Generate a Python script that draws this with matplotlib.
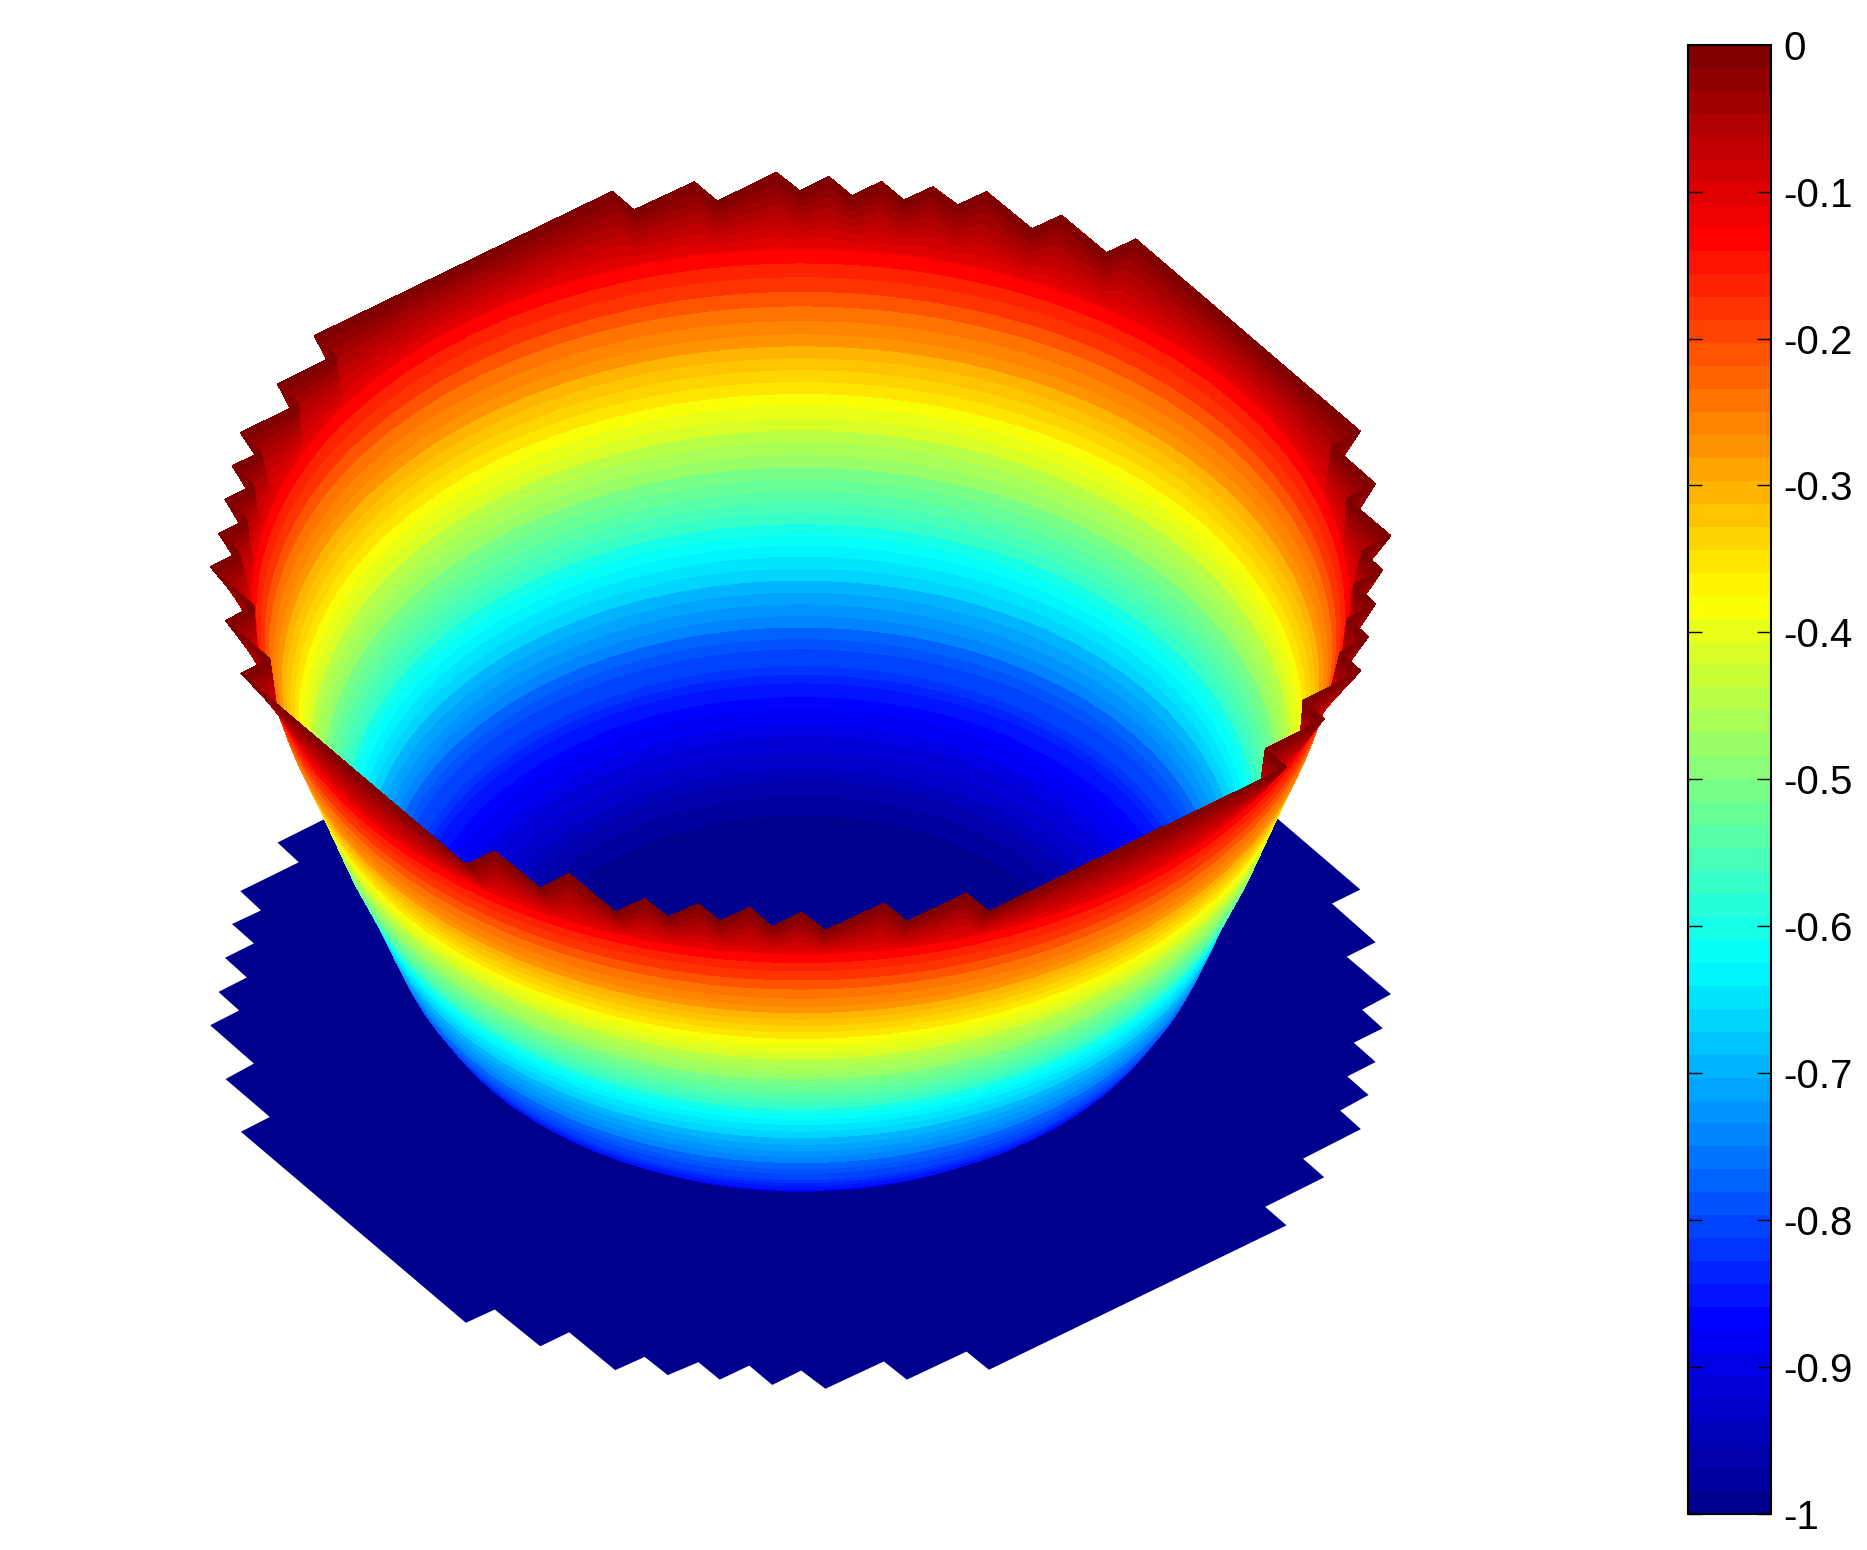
# -*- coding: utf-8 -*-
import numpy as np
from matplotlib import pyplot as plt
from matplotlib.cm import ScalarMappable
from matplotlib.colors import Normalize, LinearSegmentedColormap
from mpl_toolkits.mplot3d import proj3d
from mpl_toolkits.mplot3d.art3d import Poly3DCollection

plt.rcParams['font.family'] = ['Liberation Sans', 'DejaVu Sans']

# jagged domain outline (view aligned, unit radius)
outline_x = [-1.000, -.926, -.974, -.899, -.948, -.567, -.518, -.441, -.392, -.314, -.264,
             -.225, -.173, -.137, -.087, -.048, .001, .042, .141, .180, .281, .319,
             .823, .787, .887, .851, .949, .914, .962, .926, .974, .937, .986, .951,
             1.000, .925, .974, .900, .948, .568, .518, .442, .392, .315, .266,
             .224, .175, .137, .087, .048, -.001, -.041, -.141, -.180, -.282, -.319,
             -.824, -.787, -.886, -.850, -.949, -.914, -.963, -.926, -.975, -.938, -.986, -.951]
outline_y = [-.041, -.142, -.183, -.283, -.322, -.826, -.791, -.888, -.851, -.951, -.916,
             -.964, -.930, -.976, -.939, -.990, -.952, -1.000, -.928, -.976, -.902, -.950,
             -.569, -.520, -.442, -.393, -.315, -.266, -.225, -.176, -.138, -.087, -.049, .000,
             .041, .140, .178, .280, .317, .824, .788, .887, .851, .949, .914,
             .962, .927, .976, .938, .989, .951, 1.000, .924, .975, .901, .950,
             .569, .518, .441, .389, .313, .262, .226, .175, .137, .085, .047, -.002]

# bowl profile, radius against height, the last step climbs to the outline
profile_r = [0, .40, .48, .525, .60, .655, .695, .725, .75, .795, .845, .89, .915, .93]
profile_z = [-1, -1, -.99, -.96, -.90, -.85, -.78, -.70, -.63, -.52, -.375, -.25, -.16, -.11]

cbar_ticks = [0, -.1, -.2, -.3, -.4, -.5, -.6, -.7, -.8, -.9, -1]
cbar_labels = ['0', '-0.1', '-0.2', '-0.3', '-0.4', '-0.5', '-0.6', '-0.7', '-0.8', '-0.9', '-1']

W, H = 1867, 1550
fig = plt.figure(figsize=(W/100, H/100), dpi=100)
ax = fig.add_axes([0, 0, 1, 1], projection='3d', proj_type='ortho', computed_zorder=False)
ax.view_init(elev=39.94, azim=-90)
ax.set_xlim(-1, 1)
ax.set_ylim(-1, 1)
ax.set_zlim(-1, 0)
ax.set_box_aspect((2, 2, 1.0127))
ax.set_axis_off()

# matlab style jet, 64 levels
cmap = LinearSegmentedColormap.from_list('jet64', [(0, (0, 0, .5625)), (.125, (0, 0, 1)), (.375, (0, 1, 1)),
                                                   (.625, (1, 1, 0)), (.875, (1, 0, 0)), (1, (.5, 0, 0))], N=64)
norm = Normalize(-1, 0)

# refine the outline edge by edge, every ray goes through the centre
ox = np.array(outline_x + outline_x[:1])
oy = np.array(outline_y + outline_y[:1])
t = np.linspace(0, 1, 8, endpoint=False)
px = np.concatenate([ox[i]+(ox[i+1]-ox[i])*t for i in range(len(ox)-1)]+[ox[:1]])
py = np.concatenate([oy[i]+(oy[i+1]-oy[i])*t for i in range(len(oy)-1)]+[oy[:1]])
R = np.hypot(px, py)

# round wall first, then a straight climb from its top to the outline
rho = np.linspace(0, profile_r[-1], 130)
X = np.outer(rho, px/R)
Y = np.outer(rho, py/R)
Z = np.outer(np.interp(rho, profile_r, profile_z), np.ones(px.size))
frac = np.linspace(0, 1, 30)[1:]
Xo, Yo, Zo = X[-1], Y[-1], Z[-1]
X = np.vstack([X]+[Xo+(px-Xo)*f for f in frac])
Y = np.vstack([Y]+[Yo+(py-Yo)*f for f in frac])
Z = np.vstack([Z]+[Zo*(1-f) for f in frac])

plane = [list(zip(outline_x, outline_y, [-1]*len(outline_x)))]
ax.add_collection3d(Poly3DCollection(plane, facecolors=cmap(0), edgecolors='none', zorder=1))

ax.plot_surface(X, Y, Z, facecolors=cmap(norm(Z)), rstride=1, cstride=1, shade=False,
                linewidth=0, antialiased=False, zorder=2)

# put the axes so that the rim has its size and place in the figure
fig.canvas.draw()
def to_px(x, y, z):
    a, b, _ = proj3d.proj_transform(x, y, z, ax.get_proj())
    return ax.transData.transform((a, b))
c = to_px(0, 0, 0)
e = to_px(1, 0, 0)
s = 590.4/(e[0]-c[0])
ax.set_position([(800.6-c[0]*s)/W, (H-551.3-c[1]*s)/H, s, s])

cax = fig.add_axes([1688/W, 1-1513.6/H, 83/W, 1468.8/H])
cb = fig.colorbar(ScalarMappable(norm=norm, cmap=cmap), cax=cax)
cb.set_ticks(cbar_ticks)
cb.set_ticklabels(cbar_labels)
cb.minorticks_off()
cb.outline.set_linewidth(1.5)
cax.tick_params(axis='y', direction='in', left=True, right=True, length=10, width=1,
                labelsize=29, pad=9)

fig.savefig('out.png', dpi=100)
